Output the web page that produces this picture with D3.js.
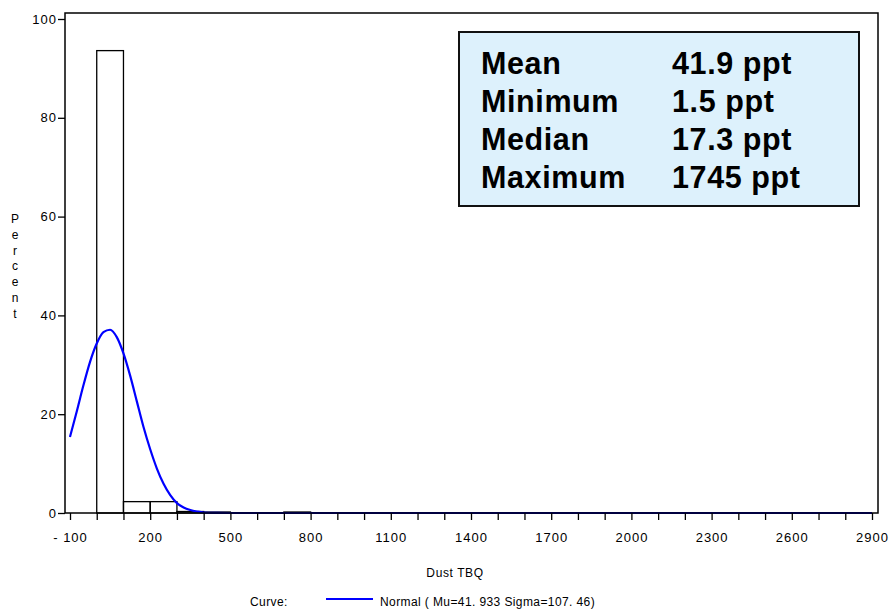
<!DOCTYPE html>
<html>
<head>
<meta charset="utf-8">
<script src="https://cdn.jsdelivr.net/npm/d3@7"></script>
<style>
  body { margin: 0; background: #fff; }
  text { font-family: "Liberation Sans", Arial, sans-serif; }
</style>
</head>
<body>
<svg id="chart"></svg>
<script>
// histogram bins (width 100), percent of samples
const binStart = [0, 100, 200, 300, 400, 700];
const binPercent = [93.6, 2.3, 2.3, 0.3, 0.2, 0.2];
const binWidth = 100;

// fitted normal curve
const curveX = [-100, -75, -50, -25, 0, 25, 50, 75, 100, 125, 150, 175, 200, 225, 250, 275, 300, 325, 350, 375, 400, 450, 500, 600, 2900];
const curveY = [15.4, 20.5, 25.8, 30.6, 34.3, 36.6, 37.1, 35.6, 32.3, 27.8, 22.6, 17.4, 12.9, 9.0, 5.9, 3.6, 2.0, 1.1, 0.6, 0.3, 0.1, 0.03, 0, 0, 0];

const xTickLabels = [-100, 200, 500, 800, 1100, 1400, 1700, 2000, 2300, 2600, 2900];
const yTickLabels = [0, 20, 40, 60, 80, 100];

const statNames = ["Mean", "Minimum", "Median", "Maximum"];
const statValues = ["41.9 ppt", "1.5 ppt", "17.3 ppt", "1745 ppt"];

const W = 892, H = 610;
const frame = { left: 65, right: 878, top: 13, bottom: 513 };

const svg = d3.select("#chart").attr("width", W).attr("height", H);

const x = d3.scaleLinear().domain([-100, 2900]).range([70, 872]);
const y = d3.scaleLinear().domain([0, 100]).range([513, 19]);

// bars
svg.selectAll("rect.bar")
  .data(binStart)
  .enter()
  .append("rect")
  .attr("class", "bar")
  .attr("x", (d) => x(d))
  .attr("width", (d) => x(d + binWidth) - x(d))
  .attr("y", (d, i) => y(binPercent[i]))
  .attr("height", (d, i) => y(0) - y(binPercent[i]))
  .style("fill", "none")
  .style("stroke", "#000")
  .style("stroke-width", 1.3);

// normal curve
const line = d3.line()
  .x((d, i) => x(curveX[i]))
  .y((d) => y(d))
  .curve(d3.curveMonotoneX);

svg.append("path")
  .datum(curveY)
  .attr("d", line)
  .style("fill", "none")
  .style("stroke", "#0000ff")
  .style("stroke-width", 2.2);

// frame
svg.append("rect")
  .attr("x", frame.left)
  .attr("y", frame.top)
  .attr("width", frame.right - frame.left)
  .attr("height", frame.bottom - frame.top)
  .style("fill", "none")
  .style("stroke", "#000")
  .style("stroke-width", 1.5);

// x axis
const xAxis = svg.append("g")
  .attr("transform", `translate(0, ${frame.bottom})`)
  .call(d3.axisBottom(x)
    .tickValues(d3.range(-100, 2901, 100))
    .tickSize(7)
    .tickFormat((d) => (xTickLabels.includes(d) ? (d < 0 ? "- " + (-d) : d) : "")));
xAxis.select(".domain").remove();
xAxis.selectAll("line").style("stroke", "#000").style("stroke-width", 1.3);
xAxis.selectAll("text")
  .attr("y", 20)
  .style("font-size", "13px")
  .style("letter-spacing", "1px")
  .style("fill", "#000");

// y axis
const yAxis = svg.append("g")
  .attr("transform", `translate(${frame.left}, 0)`)
  .call(d3.axisLeft(y).tickValues(yTickLabels).tickSize(7).tickPadding(1));
yAxis.select(".domain").remove();
yAxis.selectAll("line").style("stroke", "#000").style("stroke-width", 1.3);
yAxis.selectAll("text")
  .style("font-size", "13px")
  .style("letter-spacing", "1px")
  .style("fill", "#000");

// y axis title, stacked letters
svg.append("g")
  .selectAll("text")
  .data("Percent".split(""))
  .enter()
  .append("text")
  .attr("x", 15)
  .attr("y", (d, i) => 223 + i * 15.8)
  .attr("text-anchor", "middle")
  .style("font-size", "12px")
  .text((d) => d);

// x axis title
svg.append("text")
  .attr("x", 455)
  .attr("y", 577)
  .attr("text-anchor", "middle")
  .style("font-size", "12px")
  .style("letter-spacing", "0.6px")
  .text("Dust  TBQ");

// legend
svg.append("text")
  .attr("x", 250)
  .attr("y", 606)
  .style("font-size", "12px")
  .style("letter-spacing", "0.4px")
  .text("Curve:");
svg.append("line")
  .attr("x1", 326).attr("x2", 373)
  .attr("y1", 599).attr("y2", 599)
  .style("stroke", "#0000ff")
  .style("stroke-width", 2.2);
svg.append("text")
  .attr("x", 380)
  .attr("y", 606)
  .style("font-size", "12px")
  .style("letter-spacing", "0.4px")
  .text("Normal ( Mu=41. 933  Sigma=107. 46)");

// stats box
svg.append("rect")
  .attr("x", 459)
  .attr("y", 32)
  .attr("width", 400)
  .attr("height", 174)
  .style("fill", "#ddf1fc")
  .style("stroke", "#111")
  .style("stroke-width", 2);

const stats = svg.append("g");
stats.selectAll("text.name")
  .data(statNames)
  .enter()
  .append("text")
  .attr("class", "name")
  .attr("x", 481)
  .attr("y", (d, i) => 74 + i * 38)
  .style("font-size", "30.5px")
  .style("font-weight", "bold")
  .style("letter-spacing", "0.6px")
  .text((d) => d);
stats.selectAll("text.value")
  .data(statValues)
  .enter()
  .append("text")
  .attr("class", "value")
  .attr("x", 672)
  .attr("y", (d, i) => 74 + i * 38)
  .style("font-size", "30.5px")
  .style("font-weight", "bold")
  .style("letter-spacing", "0.6px")
  .text((d) => d);
</script>
</body>
</html>
